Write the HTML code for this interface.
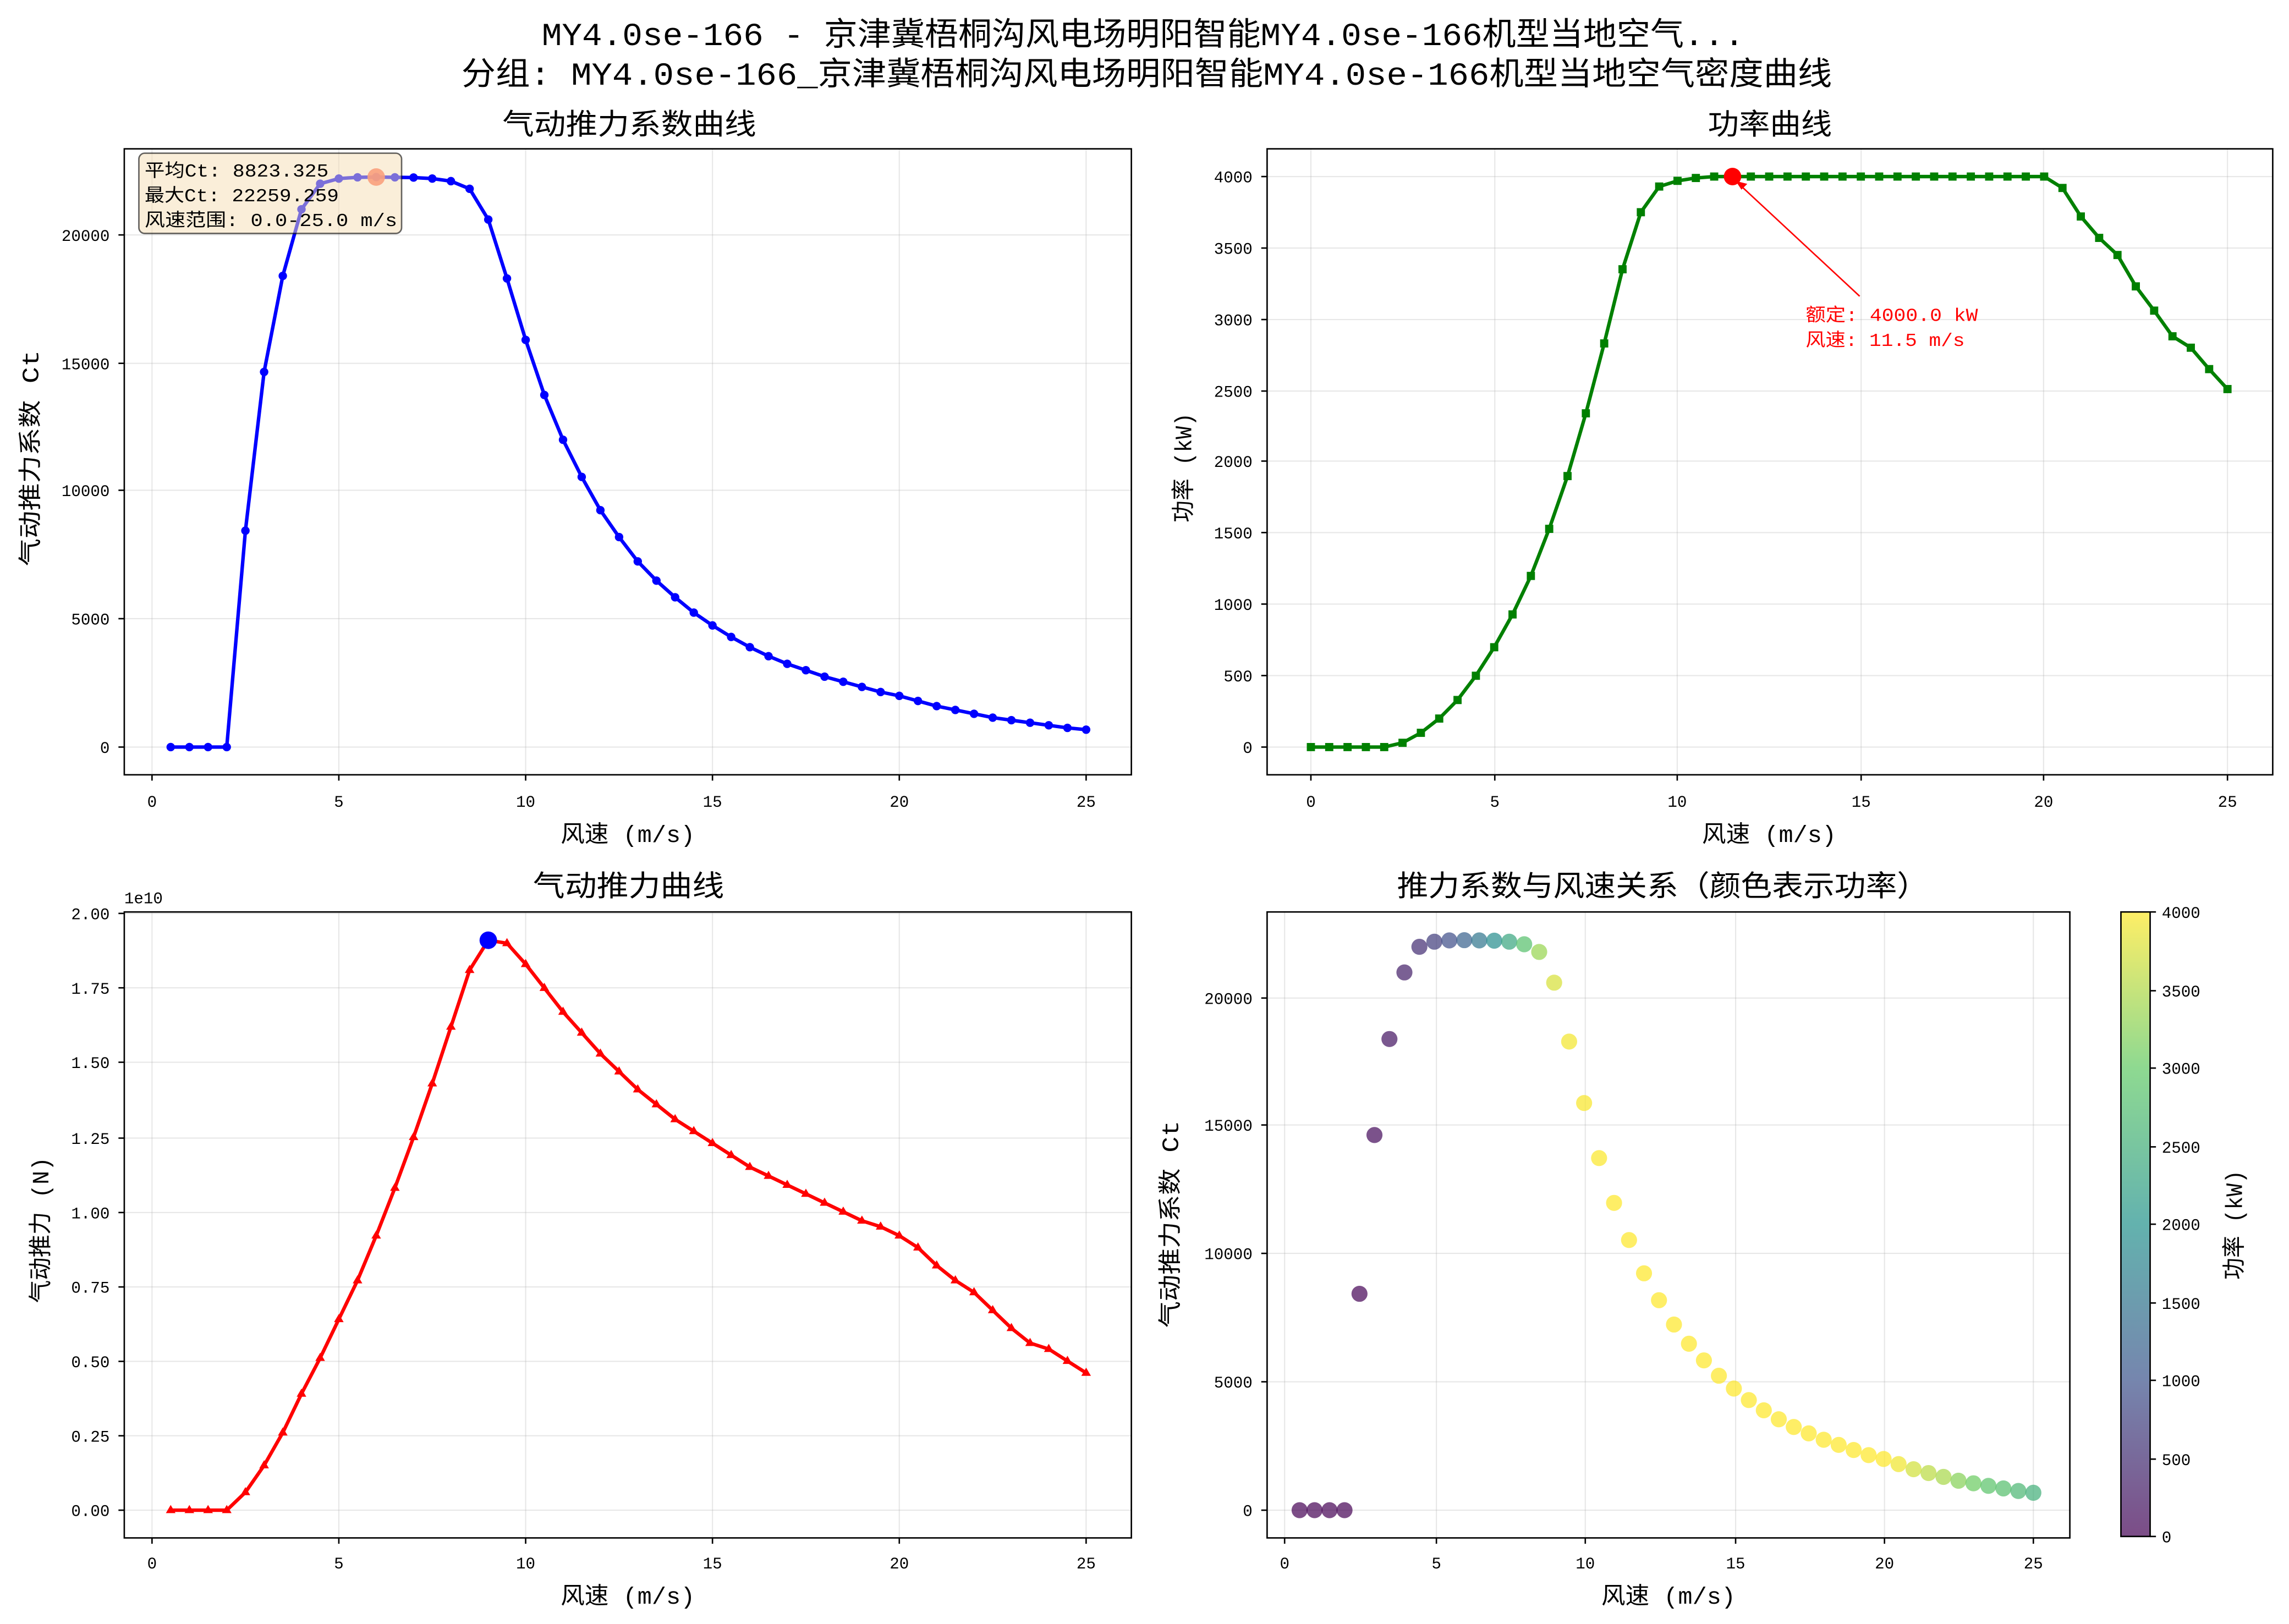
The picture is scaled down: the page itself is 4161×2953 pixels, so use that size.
<!DOCTYPE html>
<html><head><meta charset="utf-8">
<style>
html,body{margin:0;padding:0;background:#fff;}
svg{display:block;}
text{font-family:"Liberation Mono","Noto Sans CJK SC","WenQuanYi Zen Hei",monospace;fill:#000;}
.t{font-size:11px;}
.al{font-size:16px;}
.st{font-size:20px;}
.ti{font-size:22px;}
.in{font-size:12.5px;}
</style></head>
<body>
<svg id="s" width="4161" height="2953" viewBox="0 0 1568 1113" xmlns="http://www.w3.org/2000/svg">
<rect width="1568" height="1113" fill="#fff"/>
<defs>
<linearGradient id="vir" x1="0" y1="1" x2="0" y2="0">
<stop offset="0" stop-color="#440154"/><stop offset="0.25" stop-color="#3b528b"/><stop offset="0.5" stop-color="#21918c"/><stop offset="0.75" stop-color="#5ec962"/><stop offset="1" stop-color="#fde725"/>
</linearGradient>
</defs>
<g id="grids"></g>
<g id="data"></g>
<text class="ti" x="371" y="31" textLength="824" lengthAdjust="spacingAndGlyphs">MY4.0se-166 - 京津冀梧桐沟风电场明阳智能MY4.0se-166机型当地空气...</text>
<text class="ti" x="316" y="58" textLength="939" lengthAdjust="spacingAndGlyphs">分组: MY4.0se-166_京津冀梧桐沟风电场明阳智能MY4.0se-166机型当地空气密度曲线</text>
<text class="st" x="344" y="92" textLength="174" lengthAdjust="spacingAndGlyphs">气动推力系数曲线</text>
<text class="st" x="1170" y="92" textLength="85" lengthAdjust="spacingAndGlyphs">功率曲线</text>
<text class="st" x="365" y="614" textLength="131" lengthAdjust="spacingAndGlyphs">气动推力曲线</text>
<text class="st" x="957" y="614" textLength="364" lengthAdjust="spacingAndGlyphs">推力系数与风速关系（颜色表示功率）</text>
<g fill="none" stroke="#000" stroke-width="1">
<rect x="85" y="102" width="690" height="429"/>
<rect x="868" y="102" width="689" height="429"/>
<rect x="85" y="625" width="690" height="429"/>
<rect x="868" y="625" width="550" height="429"/>
<rect x="1453" y="625" width="20" height="428" fill="url(#vir)" fill-opacity="0.7"/>
</g>
<text class="al" x="384" y="577" textLength="92" lengthAdjust="spacingAndGlyphs">风速 (m/s)</text>
<text class="al" x="1166" y="577" textLength="92" lengthAdjust="spacingAndGlyphs">风速 (m/s)</text>
<text class="al" x="384" y="1099" textLength="92" lengthAdjust="spacingAndGlyphs">风速 (m/s)</text>
<text class="al" x="1097" y="1099" textLength="92" lengthAdjust="spacingAndGlyphs">风速 (m/s)</text>
<text class="al" transform="translate(26,388) rotate(-90)" textLength="148" lengthAdjust="spacingAndGlyphs">气动推力系数 Ct</text>
<text class="al" transform="translate(816,358) rotate(-90)" textLength="75" lengthAdjust="spacingAndGlyphs">功率 (kW)</text>
<text class="al" transform="translate(33,893) rotate(-90)" textLength="100" lengthAdjust="spacingAndGlyphs">气动推力 (N)</text>
<text class="al" transform="translate(807,910) rotate(-90)" textLength="142" lengthAdjust="spacingAndGlyphs">气动推力系数 Ct</text>
<text class="al" transform="translate(1536,877) rotate(-90)" textLength="75" lengthAdjust="spacingAndGlyphs">功率 (kW)</text>
<text class="t" x="85" y="619">1e10</text>
<g class="t" text-anchor="middle">
<text x="104" y="553">0</text><text x="232" y="553">5</text><text x="360" y="553">10</text><text x="488" y="553">15</text><text x="616" y="553">20</text><text x="744" y="553">25</text>
<text x="898" y="553">0</text><text x="1024" y="553">5</text><text x="1149" y="553">10</text><text x="1275" y="553">15</text><text x="1400" y="553">20</text><text x="1526" y="553">25</text>
<text x="104" y="1075">0</text><text x="232" y="1075">5</text><text x="360" y="1075">10</text><text x="488" y="1075">15</text><text x="616" y="1075">20</text><text x="744" y="1075">25</text>
<text x="880" y="1075">0</text><text x="984" y="1075">5</text><text x="1086" y="1075">10</text><text x="1189" y="1075">15</text><text x="1291" y="1075">20</text><text x="1393" y="1075">25</text>
</g>
<g class="t" text-anchor="end">
<text x="75" y="516">0</text><text x="75" y="428">5000</text><text x="75" y="340">10000</text><text x="75" y="253">15000</text><text x="75" y="165">20000</text>
<text x="858" y="516">0</text><text x="858" y="467">500</text><text x="858" y="418">1000</text><text x="858" y="369">1500</text><text x="858" y="320">2000</text><text x="858" y="272">2500</text><text x="858" y="223">3000</text><text x="858" y="174">3500</text><text x="858" y="125">4000</text>
<text x="75" y="1039">0.00</text><text x="75" y="988">0.25</text><text x="75" y="937">0.50</text><text x="75" y="886">0.75</text><text x="75" y="835">1.00</text><text x="75" y="784">1.25</text><text x="75" y="732">1.50</text><text x="75" y="681">1.75</text><text x="75" y="630">2.00</text>
<text x="858" y="1039">0</text><text x="858" y="951">5000</text><text x="858" y="863">10000</text><text x="858" y="775">15000</text><text x="858" y="688">20000</text>
</g>
<g class="t" text-anchor="start">
<text x="1481" y="1057">0</text><text x="1481" y="1004">500</text><text x="1481" y="950">1000</text><text x="1481" y="897">1500</text><text x="1481" y="843">2000</text><text x="1481" y="790">2500</text><text x="1481" y="736">3000</text><text x="1481" y="683">3500</text><text x="1481" y="629">4000</text>
</g>
<g id="ticks" stroke="#000" stroke-width="1"></g>
<text class="in" x="1237" y="220" textLength="118" lengthAdjust="spacingAndGlyphs" style="fill:#f00">额定: 4000.0 kW</text>
<text class="in" x="1237" y="237" textLength="109" lengthAdjust="spacingAndGlyphs" style="fill:#f00">风速: 11.5 m/s</text>
<line x1="1274" y1="203" x2="1189" y2="124" stroke="#f00" stroke-width="1"/>
<path d="M1189,124 l8,2 l-4,4 z" fill="#f00"/>
<g id="box"></g>
<text class="in" x="99" y="121" textLength="126" lengthAdjust="spacingAndGlyphs">平均Ct: 8823.325</text>
<text class="in" x="99" y="138" textLength="133" lengthAdjust="spacingAndGlyphs">最大Ct: 22259.259</text>
<text class="in" x="99" y="155" textLength="173" lengthAdjust="spacingAndGlyphs">风速范围: 0.0-25.0 m/s</text>
</svg>
<script>
const NS="http://www.w3.org/2000/svg";
function el(p,t,a){const e=document.createElementNS(NS,t);for(const k in a)e.setAttribute(k,a[k]);p.appendChild(e);return e;}
const G=document.getElementById('grids'),D=document.getElementById('data'),T=document.getElementById('ticks'),B=document.getElementById('box');
const ct=[0,0,0,0,8450,14650,18400,21000,22000,22200,22250,22259,22250,22240,22200,22100,21800,20600,18300,15900,13750,12000,10550,9250,8200,7250,6500,5850,5250,4750,4300,3900,3550,3250,3000,2750,2550,2350,2150,2000,1800,1600,1450,1300,1150,1050,950,850,750,680];
const pw=[0,0,0,0,0,30,100,200,330,500,700,930,1200,1530,1900,2340,2830,3350,3750,3930,3970,3990,4000,4000,4000,4000,4000,4000,4000,4000,4000,4000,4000,4000,4000,4000,4000,4000,4000,4000,4000,3920,3720,3570,3450,3230,3060,2880,2800,2650,2510];
const th=[0,0,0,0,0.06,0.15,0.26,0.39,0.51,0.64,0.77,0.92,1.08,1.25,1.43,1.62,1.81,1.91,1.90,1.83,1.75,1.67,1.60,1.53,1.47,1.41,1.36,1.31,1.27,1.23,1.19,1.15,1.12,1.09,1.06,1.03,1.00,0.97,0.95,0.92,0.88,0.82,0.77,0.73,0.67,0.61,0.56,0.54,0.50,0.46];
const gs={stroke:"#b0b0b0","stroke-opacity":0.3,"stroke-width":0.8};
function grid(xs,ys,x0,x1,y0,y1){xs.forEach(x=>{el(G,'line',Object.assign({x1:x,x2:x,y1:y0,y2:y1},gs));el(T,'line',{x1:x,x2:x,y1:y1,y2:y1+4});});ys.forEach(y=>{el(G,'line',Object.assign({x1:x0,x2:x1,y1:y,y2:y},gs));el(T,'line',{x1:x0-4,x2:x0,y1:y,y2:y});});}
grid([104,232,360,488,616,744],[512,424,336,249,161],85,775,102,531);
grid([898,1024,1149,1275,1400,1526],[512,463,414,365,316,268,219,170,121],868,1557,102,531);
grid([104,232,360,488,616,744],[1035,984,933,882,831,780,728,677,626],85,775,625,1054);
grid([880,984,1086,1189,1291,1393],[1035,947,859,771,684],868,1418,625,1054);
[1053,1000,946,893,839,786,732,679,625].forEach(y=>el(T,'line',{x1:1473,x2:1477,y1:y,y2:y}));
let p=[];ct.forEach((v,i)=>{const w=0.5+i*0.5;p.push([104+w*25.6,512-v*0.01755]);});
el(D,'polyline',{points:p.map(q=>q.join(',')).join(' '),fill:'none',stroke:'#0000ff','stroke-width':2.4});
p.forEach(q=>el(D,'circle',{cx:q[0],cy:q[1],r:2.9,fill:'#0000ff'}));
el(D,'circle',{cx:104+6*25.6,cy:512-22259*0.01755,r:6,fill:'#ff6347','fill-opacity':0.9});
p=[];pw.forEach((v,i)=>{const w=i*0.5;p.push([898+w*25.12,512-v*0.09775]);});
el(D,'polyline',{points:p.map(q=>q.join(',')).join(' '),fill:'none',stroke:'#008000','stroke-width':2.4});
p.forEach(q=>el(D,'rect',{x:q[0]-2.8,y:q[1]-2.8,width:5.6,height:5.6,fill:'#008000'}));
el(D,'circle',{cx:898+11.5*25.12,cy:121,r:6,fill:'#ff0000'});
p=[];th.forEach((v,i)=>{const w=0.5+i*0.5;p.push([104+w*25.6,1035-v*204.5]);});
el(D,'polyline',{points:p.map(q=>q.join(',')).join(' '),fill:'none',stroke:'#ff0000','stroke-width':2.4});
p.forEach(q=>el(D,'path',{d:`M${q[0]},${q[1]-3.6} l3.3,5.6 h-6.6 z`,fill:'#ff0000'}));
el(D,'circle',{cx:104+9*25.6,cy:1035-1.91*204.5,r:6,fill:'#0000ff'});
const st=[[0,[68,1,84]],[0.25,[59,82,139]],[0.5,[33,145,140]],[0.75,[94,201,98]],[1,[253,231,37]]];
function vir(t){for(let i=0;i<4;i++){if(t<=st[i+1][0]){const f=(t-st[i][0])/(st[i+1][0]-st[i][0]);const c=st[i][1].map((a,j)=>Math.round(a+(st[i+1][1][j]-a)*f));return `rgb(${c})`;}}return 'rgb(253,231,37)';}
ct.forEach((v,i)=>{const w=0.5+i*0.5;el(D,'circle',{cx:880+w*20.52,cy:1035-v*0.01755,r:5.5,fill:vir(pw[i+1]/4000),'fill-opacity':0.7});});
el(B,'rect',{x:95,y:105,width:180,height:55,rx:4,fill:'#f5deb3','fill-opacity':0.5,stroke:'#000','stroke-opacity':0.6});
</script>
</body></html>
